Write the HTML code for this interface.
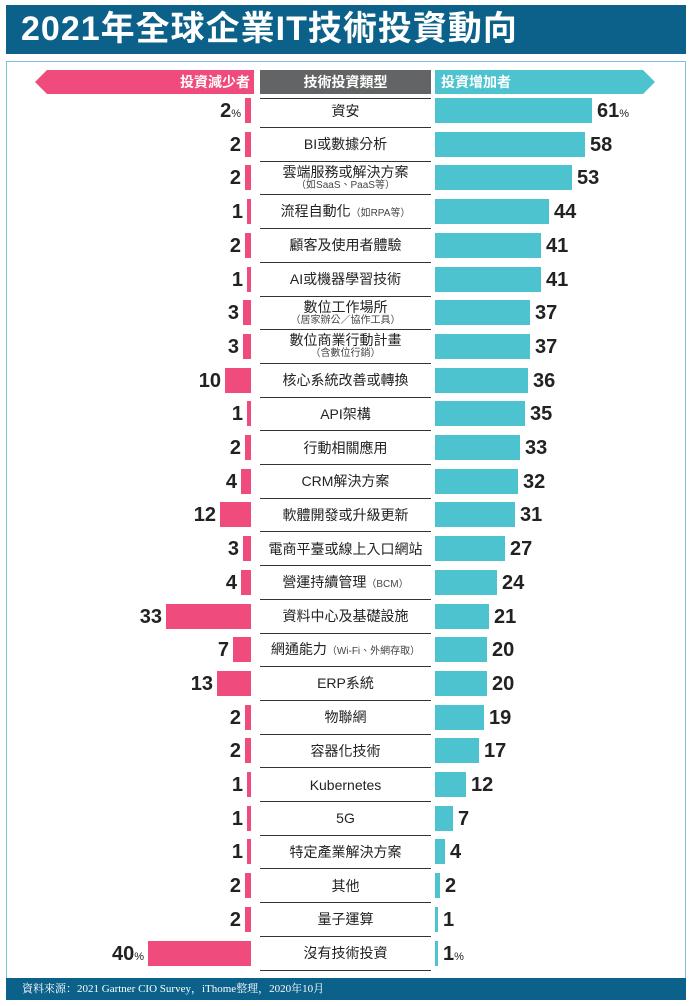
<!DOCTYPE html>
<html><head><meta charset="utf-8"><style>
body{margin:0;width:692px;height:1006px;background:#fff;position:relative;overflow:hidden;font-family:"Liberation Sans","Noto Sans CJK TC",sans-serif;color:#222}
.title{position:absolute;left:6px;top:5px;width:680px;height:49px;background:#0b6189;color:#fff;font-weight:bold;font-size:34px;line-height:49px;padding-left:15px;box-sizing:border-box;letter-spacing:1px}
.panel{position:absolute;left:6px;top:61px;width:680px;height:918px;border:1.5px solid #7cc3dc;box-sizing:border-box}
.foot{position:absolute;left:6px;top:978px;width:680px;height:22px;background:#0b6189;color:#fff;font-family:"Liberation Serif","Noto Serif CJK SC",serif;font-size:11px;line-height:22px;padding-left:16px;box-sizing:border-box}
.h{position:absolute;top:70px;height:24px;line-height:24px;color:#fff;font-weight:bold;font-size:14px}
.r{position:absolute;left:0;width:692px;height:34px}
.r .lb{position:absolute;right:441px;top:2px;height:25px;background:#ef4b7c}
.r .rb{position:absolute;left:435px;top:2px;height:25px;background:#4dc3d0}
.r .c{position:absolute;left:260px;width:171px;top:-1px;height:32px;border-bottom:1.5px solid #333;text-align:center;font-size:14px;display:flex;flex-direction:column;justify-content:center;line-height:15px}
.r .c small{font-size:10px;color:#444;line-height:12px}
.n{position:absolute;top:0;font-weight:bold;font-size:20px;line-height:30px;color:#222}
.n small{font-size:11px;font-weight:normal}
</style></head><body>
<div class="title">2021年全球企業IT技術投資動向</div>
<div class="panel"></div>
<svg style="position:absolute;left:0;top:0" width="692" height="100">
<polygon points="35,82 47,70 254,70 254,94 47,94" fill="#ef4b7c"/>
<rect x="260" y="70" width="171" height="24" fill="#636466"/>
<polygon points="435,70 643,70 655,82 643,94 435,94" fill="#4dc3d0"/>
</svg>
<div class="h" style="left:170px;width:80px;text-align:right">投資減少者</div>
<div class="h" style="left:260px;width:171px;text-align:center">技術投資類型</div>
<div class="h" style="left:441px">投資增加者</div>
<div style="position:absolute;left:260px;top:98px;width:171px;border-top:1.5px solid #333"></div>

<div class="r" style="top:96px"><span class="n" style="right:451px">2<small>%</small></span><i class="lb" style="width:6px"></i><div class="c">資安</div><i class="rb" style="width:157px"></i><span class="n" style="left:597px">61<small>%</small></span></div>
<div class="r" style="top:129.7px"><span class="n" style="right:451px">2</span><i class="lb" style="width:6px"></i><div class="c">BI或數據分析</div><i class="rb" style="width:150px"></i><span class="n" style="left:590px">58</span></div>
<div class="r" style="top:163.4px"><span class="n" style="right:451px">2</span><i class="lb" style="width:6px"></i><div class="c">雲端服務或解決方案<small>（如SaaS、PaaS等）</small></div><i class="rb" style="width:137px"></i><span class="n" style="left:577px">53</span></div>
<div class="r" style="top:197.1px"><span class="n" style="right:449px">1</span><i class="lb" style="width:4px"></i><div class="c"><span>流程自動化<small>（如RPA等）</small></span></div><i class="rb" style="width:114px"></i><span class="n" style="left:554px">44</span></div>
<div class="r" style="top:230.8px"><span class="n" style="right:451px">2</span><i class="lb" style="width:6px"></i><div class="c">顧客及使用者體驗</div><i class="rb" style="width:106px"></i><span class="n" style="left:546px">41</span></div>
<div class="r" style="top:264.5px"><span class="n" style="right:449px">1</span><i class="lb" style="width:4px"></i><div class="c">AI或機器學習技術</div><i class="rb" style="width:106px"></i><span class="n" style="left:546px">41</span></div>
<div class="r" style="top:298.2px"><span class="n" style="right:453px">3</span><i class="lb" style="width:8px"></i><div class="c">數位工作場所<small>（居家辦公／協作工具）</small></div><i class="rb" style="width:95px"></i><span class="n" style="left:535px">37</span></div>
<div class="r" style="top:331.9px"><span class="n" style="right:453px">3</span><i class="lb" style="width:8px"></i><div class="c">數位商業行動計畫<small>（含數位行銷）</small></div><i class="rb" style="width:95px"></i><span class="n" style="left:535px">37</span></div>
<div class="r" style="top:365.6px"><span class="n" style="right:471px">10</span><i class="lb" style="width:26px"></i><div class="c">核心系統改善或轉換</div><i class="rb" style="width:93px"></i><span class="n" style="left:533px">36</span></div>
<div class="r" style="top:399.3px"><span class="n" style="right:449px">1</span><i class="lb" style="width:4px"></i><div class="c">API架構</div><i class="rb" style="width:90px"></i><span class="n" style="left:530px">35</span></div>
<div class="r" style="top:433px"><span class="n" style="right:451px">2</span><i class="lb" style="width:6px"></i><div class="c">行動相關應用</div><i class="rb" style="width:85px"></i><span class="n" style="left:525px">33</span></div>
<div class="r" style="top:466.7px"><span class="n" style="right:455px">4</span><i class="lb" style="width:10px"></i><div class="c">CRM解決方案</div><i class="rb" style="width:83px"></i><span class="n" style="left:523px">32</span></div>
<div class="r" style="top:500.4px"><span class="n" style="right:476px">12</span><i class="lb" style="width:31px"></i><div class="c">軟體開發或升級更新</div><i class="rb" style="width:80px"></i><span class="n" style="left:520px">31</span></div>
<div class="r" style="top:534.1px"><span class="n" style="right:453px">3</span><i class="lb" style="width:8px"></i><div class="c">電商平臺或線上入口網站</div><i class="rb" style="width:70px"></i><span class="n" style="left:510px">27</span></div>
<div class="r" style="top:567.8px"><span class="n" style="right:455px">4</span><i class="lb" style="width:10px"></i><div class="c"><span>營運持續管理<small>（BCM）</small></span></div><i class="rb" style="width:62px"></i><span class="n" style="left:502px">24</span></div>
<div class="r" style="top:601.5px"><span class="n" style="right:530px">33</span><i class="lb" style="width:85px"></i><div class="c">資料中心及基礎設施</div><i class="rb" style="width:54px"></i><span class="n" style="left:494px">21</span></div>
<div class="r" style="top:635.2px"><span class="n" style="right:463px">7</span><i class="lb" style="width:18px"></i><div class="c"><span>網通能力<small>（Wi-Fi、外網存取）</small></span></div><i class="rb" style="width:52px"></i><span class="n" style="left:492px">20</span></div>
<div class="r" style="top:668.9px"><span class="n" style="right:479px">13</span><i class="lb" style="width:34px"></i><div class="c">ERP系統</div><i class="rb" style="width:52px"></i><span class="n" style="left:492px">20</span></div>
<div class="r" style="top:702.6px"><span class="n" style="right:451px">2</span><i class="lb" style="width:6px"></i><div class="c">物聯網</div><i class="rb" style="width:49px"></i><span class="n" style="left:489px">19</span></div>
<div class="r" style="top:736.3px"><span class="n" style="right:451px">2</span><i class="lb" style="width:6px"></i><div class="c">容器化技術</div><i class="rb" style="width:44px"></i><span class="n" style="left:484px">17</span></div>
<div class="r" style="top:770px"><span class="n" style="right:449px">1</span><i class="lb" style="width:4px"></i><div class="c">Kubernetes</div><i class="rb" style="width:31px"></i><span class="n" style="left:471px">12</span></div>
<div class="r" style="top:803.7px"><span class="n" style="right:449px">1</span><i class="lb" style="width:4px"></i><div class="c">5G</div><i class="rb" style="width:18px"></i><span class="n" style="left:458px">7</span></div>
<div class="r" style="top:837.4px"><span class="n" style="right:449px">1</span><i class="lb" style="width:4px"></i><div class="c">特定產業解決方案</div><i class="rb" style="width:10px"></i><span class="n" style="left:450px">4</span></div>
<div class="r" style="top:871.1px"><span class="n" style="right:451px">2</span><i class="lb" style="width:6px"></i><div class="c">其他</div><i class="rb" style="width:5px"></i><span class="n" style="left:445px">2</span></div>
<div class="r" style="top:904.8px"><span class="n" style="right:451px">2</span><i class="lb" style="width:6px"></i><div class="c">量子運算</div><i class="rb" style="width:3px"></i><span class="n" style="left:443px">1</span></div>
<div class="r" style="top:938.5px"><span class="n" style="right:548px">40<small>%</small></span><i class="lb" style="width:103px"></i><div class="c">沒有技術投資</div><i class="rb" style="width:3px"></i><span class="n" style="left:443px">1<small>%</small></span></div>

<div class="foot">資料來源：2021 Gartner CIO Survey，iThome整理，2020年10月</div>
</body></html>
